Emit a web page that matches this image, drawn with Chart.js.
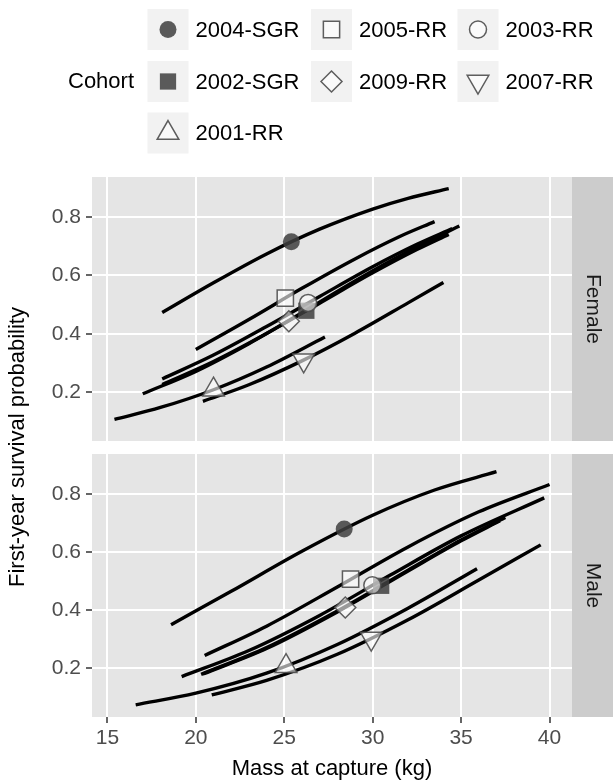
<!DOCTYPE html>
<html>
<head>
<meta charset="utf-8">
<script src="https://cdn.jsdelivr.net/npm/chart.js@4.4.1/dist/chart.umd.min.js"></script>
<style>
  body { margin: 0; background: #ffffff; }
  #wrap { position: relative; width: 613px; height: 782px; }
  canvas { position: absolute; left: 0; top: 0; }
</style>
</head>
<body>
<div id="wrap">
  <canvas id="female" width="613" height="782"></canvas>
  <canvas id="male" width="613" height="782"></canvas>
</div>
<script>
// cohorts, in legend order
const cohorts = ['2004-SGR', '2005-RR', '2003-RR', '2002-SGR', '2009-RR', '2007-RR', '2001-RR'];
const xTicks = [15, 20, 25, 30, 35, 40];
const yTicks = [0.2, 0.4, 0.6, 0.8];

// fitted curves, female panel (one row per cohort)
const femaleMass = [
  [18.1, 21, 24, 27, 30, 32, 34.3],
  [20.0, 23, 26, 29, 31.5, 33.5],
  [18.1, 21, 24, 27, 30, 32.5, 34.5],
  [18.1, 21, 24, 27, 30, 32.5, 34.3],
  [17.0, 20, 23, 26, 29, 32, 34.9],
  [20.4, 23, 26, 29, 32, 34.0],
  [15.4, 18, 21, 24, 27.3]
];
const femaleProb = [
  [0.473, 0.575, 0.674, 0.759, 0.828, 0.865, 0.898],
  [0.346, 0.449, 0.556, 0.657, 0.733, 0.785],
  [0.245, 0.327, 0.425, 0.528, 0.630, 0.707, 0.761],
  [0.226, 0.305, 0.401, 0.505, 0.609, 0.689, 0.741],
  [0.194, 0.271, 0.366, 0.472, 0.581, 0.682, 0.770],
  [0.168, 0.225, 0.307, 0.402, 0.506, 0.576],
  [0.106, 0.147, 0.208, 0.286, 0.389]
];
const femaleMeanMass = [25.4, 25.06, 26.35, 26.25, 25.26, 26.1, 21.0];
const femaleMeanProb = [0.716, 0.522, 0.506, 0.479, 0.443, 0.309, 0.208];

// fitted curves, male panel
const maleMass = [
  [18.6, 22, 26, 30, 33.5, 37.0],
  [20.5, 24, 28, 32, 36, 40.0],
  [19.2, 23, 27, 31, 35, 39.7],
  [20.3, 24, 28, 32, 35, 37.5],
  [20.4, 24, 28, 32, 35, 37.2],
  [20.9, 24, 28, 32, 36, 39.5],
  [16.6, 20, 24, 28, 32, 35.9]
];
const maleProb = [
  [0.350, 0.465, 0.603, 0.727, 0.814, 0.877],
  [0.244, 0.345, 0.480, 0.618, 0.739, 0.833],
  [0.171, 0.261, 0.382, 0.521, 0.656, 0.787],
  [0.179, 0.271, 0.397, 0.538, 0.642, 0.719],
  [0.180, 0.268, 0.394, 0.535, 0.639, 0.708],
  [0.108, 0.158, 0.248, 0.367, 0.504, 0.625],
  [0.074, 0.114, 0.183, 0.282, 0.407, 0.543]
];
const maleMeanMass = [28.39, 28.75, 29.98, 30.48, 28.45, 29.92, 25.1];
const maleMeanProb = [0.680, 0.507, 0.486, 0.484, 0.409, 0.302, 0.207];

const FONT = '"Liberation Sans", Arial, sans-serif';
Chart.defaults.font.family = FONT;

const filledColor = 'rgba(64,64,64,0.85)';
const openFill = 'rgba(255,255,255,0.6)';
const openBorder = 'rgba(77,77,77,0.9)';

const markerStyle = {
  '2004-SGR': { shape: 'circle', r: 8.5, filled: true },
  '2005-RR': { shape: 'rect', r: 11.5, filled: false },
  '2003-RR': { shape: 'circle', r: 8.5, filled: false },
  '2002-SGR': { shape: 'rect', r: 11.5, filled: true },
  '2009-RR': { shape: 'rectRot', r: 10.5, filled: false },
  '2007-RR': { shape: 'triangle', r: 12.5, rot: 180, filled: false },
  '2001-RR': { shape: 'triangle', r: 12.5, rot: 0, filled: false }
};

function drawMarker(ctx, s, x, y) {
  const r = s.r;
  ctx.beginPath();
  if (s.shape === 'circle') {
    ctx.arc(x, y, r, 0, Math.PI * 2);
  } else if (s.shape === 'rect') {
    const h = r * Math.SQRT1_2;
    ctx.rect(x - h, y - h, 2 * h, 2 * h);
  } else if (s.shape === 'rectRot') {
    ctx.moveTo(x - r, y); ctx.lineTo(x, y - r); ctx.lineTo(x + r, y); ctx.lineTo(x, y + r);
    ctx.closePath();
  } else {
    let a = (s.rot || 0) * Math.PI / 180;
    ctx.moveTo(x + Math.sin(a) * r, y - Math.cos(a) * r);
    a += 2 * Math.PI / 3;
    ctx.lineTo(x + Math.sin(a) * r, y - Math.cos(a) * r);
    a += 2 * Math.PI / 3;
    ctx.lineTo(x + Math.sin(a) * r, y - Math.cos(a) * r);
    ctx.closePath();
  }
  ctx.fillStyle = s.filled ? filledColor : openFill;
  ctx.fill();
  if (!s.filled) {
    ctx.lineWidth = 1.5;
    ctx.strokeStyle = openBorder;
    ctx.stroke();
  }
}

// grey panel + strip on the right
const panelPlugin = {
  id: 'panel',
  beforeDraw(chart, args, opts) {
    const ctx = chart.ctx;
    const a = chart.chartArea;
    ctx.save();
    ctx.fillStyle = '#e5e5e5';
    ctx.fillRect(a.left, a.top, a.right - a.left, a.bottom - a.top);
    ctx.fillStyle = '#cccccc';
    ctx.fillRect(a.right, a.top, chart.width - a.right, a.bottom - a.top);
    ctx.translate((a.right + chart.width) / 2, (a.top + a.bottom) / 2);
    ctx.rotate(Math.PI / 2);
    ctx.fillStyle = '#1a1a1a';
    ctx.font = '21px ' + FONT;
    ctx.textAlign = 'center';
    ctx.textBaseline = 'middle';
    ctx.fillText(opts.strip, 0, 0);
    ctx.restore();
  }
};

// legend at the top and the shared y title
const legendPlugin = {
  id: 'cohortLegend',
  afterDraw(chart, args, opts) {
    if (!opts.show) return;
    const ctx = chart.ctx;
    const colX = [147.5, 311, 457.5];
    const rowY = [9, 61, 112.5];
    const key = 41;
    ctx.save();
    ctx.font = '22px ' + FONT;
    ctx.textBaseline = 'middle';
    ctx.textAlign = 'left';
    ctx.fillStyle = '#000000';
    ctx.fillText('Cohort', 68, rowY[1] + key / 2);
    cohorts.forEach((c, i) => {
      const kx = colX[i % 3];
      const ky = rowY[Math.floor(i / 3)];
      ctx.fillStyle = '#f2f2f2';
      ctx.fillRect(kx, ky, key, key);
      drawMarker(ctx, markerStyle[c], kx + key / 2, ky + key / 2);
      ctx.fillStyle = '#000000';
      ctx.fillText(c, kx + key + 7, ky + key / 2 + 1);
    });
    ctx.translate(18, 447);
    ctx.rotate(-Math.PI / 2);
    ctx.textAlign = 'center';
    ctx.fillText('First-year survival probability', 0, 0);
    ctx.restore();
  }
};

function buildDatasets(mass, prob, meanMass, meanProb) {
  const curves = cohorts.map((c, i) => ({
    label: c,
    data: mass[i].map((m, j) => ({ x: m, y: prob[i][j] })),
    showLine: true,
    borderColor: '#000000',
    borderWidth: 3.4,
    pointRadius: 0,
    cubicInterpolationMode: 'monotone',
    order: 2
  }));
  const means = cohorts.map((c, i) => {
    const s = markerStyle[c];
    return {
      label: c,
      data: [{ x: meanMass[i], y: meanProb[i] }],
      pointStyle: s.shape,
      pointRadius: s.r,
      pointRotation: s.rot || 0,
      backgroundColor: s.filled ? filledColor : openFill,
      borderColor: s.filled ? 'rgba(0,0,0,0)' : openBorder,
      borderWidth: s.filled ? 0 : 1.5,
      order: 1
    };
  });
  return curves.concat(means);
}

function makeChart(id, sex, mass, prob, meanMass, meanProb, bottomAxis, padding) {
  return new Chart(document.getElementById(id), {
    type: 'scatter',
    data: { datasets: buildDatasets(mass, prob, meanMass, meanProb) },
    options: {
      responsive: false,
      animation: false,
      devicePixelRatio: 1,
      events: [],
      layout: { padding: padding },
      plugins: {
        legend: { display: false },
        tooltip: { enabled: false },
        panel: { strip: sex },
        cohortLegend: { show: !bottomAxis }
      },
      scales: {
        x: {
          type: 'linear',
          min: 14.13,
          max: 41.27,
          afterBuildTicks: s => { s.ticks = xTicks.map(v => ({ value: v })); },
          afterFit: s => { s.height = bottomAxis ? 65 : 0; },
          border: { display: false },
          grid: {
            color: '#ffffff', lineWidth: 2,
            drawTicks: bottomAxis, tickLength: 6, tickWidth: 1.5, tickColor: '#333333'
          },
          ticks: {
            display: bottomAxis,
            color: '#4d4d4d',
            font: { size: 21 },
            padding: 3,
            maxRotation: 0,
            callback: v => String(v)
          },
          title: {
            display: bottomAxis,
            text: 'Mass at capture (kg)',
            color: '#000000',
            font: { size: 22 },
            padding: 0
          }
        },
        y: {
          type: 'linear',
          min: 0.032,
          max: 0.938,
          afterBuildTicks: s => { s.ticks = yTicks.map(v => ({ value: v })); },
          afterFit: s => { s.width = 92; },
          border: { display: false },
          grid: {
            color: '#ffffff', lineWidth: 2,
            tickLength: 6, tickWidth: 1.5, tickColor: '#333333'
          },
          ticks: {
            color: '#4d4d4d',
            font: { size: 21 },
            padding: 5,
            callback: v => v.toFixed(1)
          }
        }
      }
    },
    plugins: [panelPlugin, legendPlugin]
  });
}

makeChart('female', 'Female', femaleMass, femaleProb, femaleMeanMass, femaleMeanProb, false,
  { top: 177, right: 41, bottom: 341, left: 0 });
makeChart('male', 'Male', maleMass, maleProb, maleMeanMass, maleMeanProb, true,
  { top: 454, right: 41, bottom: 0, left: 0 });
</script>
</body>
</html>
